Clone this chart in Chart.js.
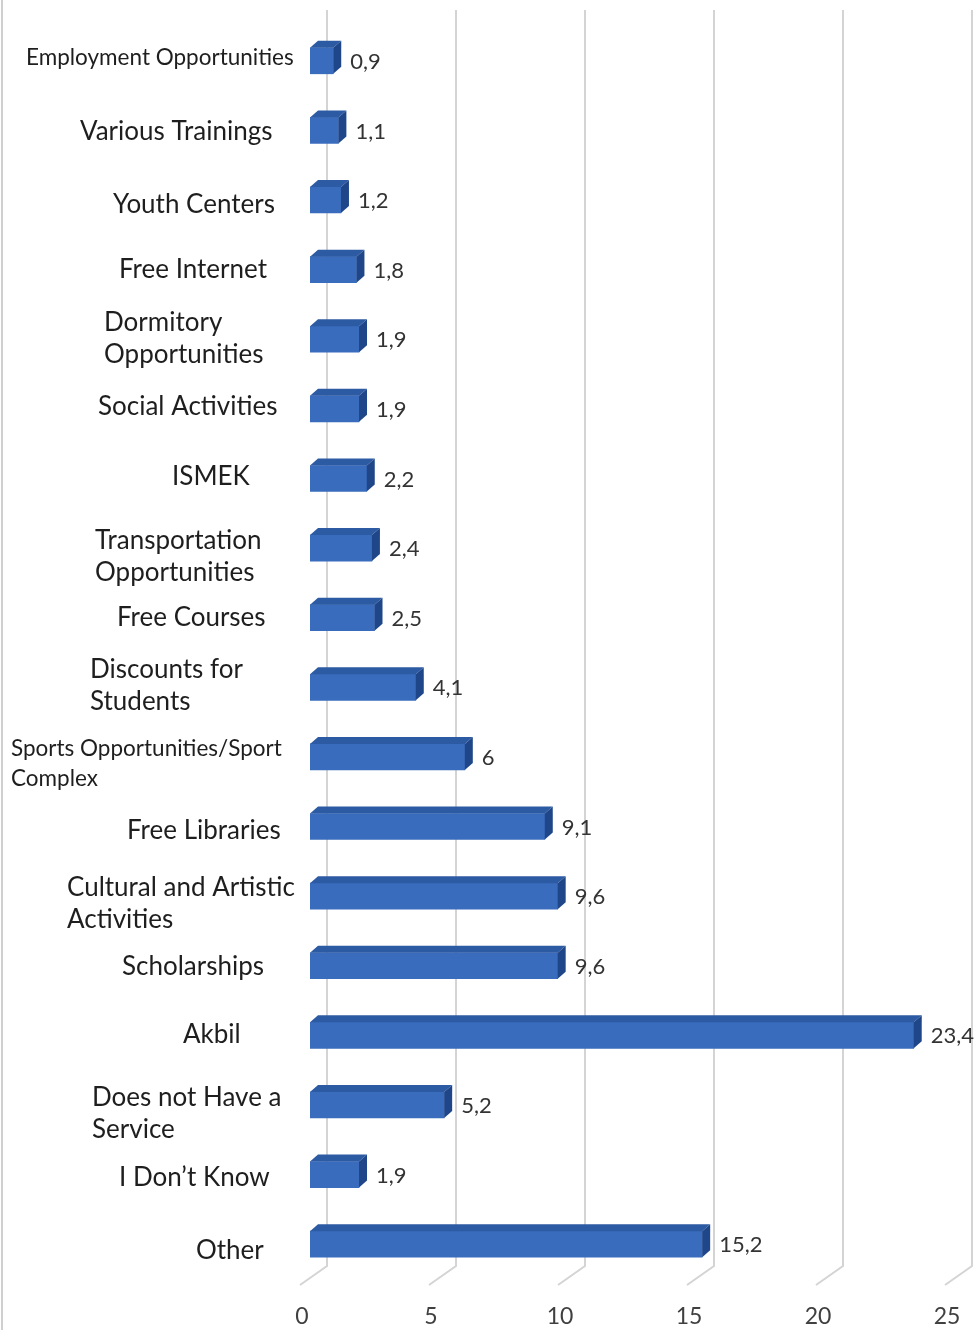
<!DOCTYPE html>
<html>
<head>
<meta charset="utf-8">
<title>Services</title>
<script src="https://cdn.jsdelivr.net/npm/chart.js@4.4.1/dist/chart.umd.min.js"></script>
<style>
  body { margin: 0; background: #fff; }
  canvas { display: block; }
</style>
</head>
<body>
<canvas id="myChart" width="980" height="1330"></canvas>
<script>
const categories = [
    ["Employment Opportunities"],
    ["Various Trainings"],
    ["Youth Centers"],
    ["Free Internet"],
    ["Dormitory", "Opportunities"],
    ["Social Activities"],
    ["ISMEK"],
    ["Transportation", "Opportunities"],
    ["Free Courses"],
    ["Discounts for", "Students"],
    ["Sports Opportunities/Sport", "Complex"],
    ["Free Libraries"],
    ["Cultural and Artistic", "Activities"],
    ["Scholarships"],
    ["Akbil"],
    ["Does not Have a", "Service"],
    ["I Don’t Know"],
    ["Other"]
];
const values = [0.9, 1.1, 1.2, 1.8, 1.9, 1.9, 2.2, 2.4, 2.5, 4.1, 6, 9.1, 9.6, 9.6, 23.4, 5.2, 1.9, 15.2];
const xTicks = [0, 5, 10, 15, 20, 25];

// text boxes for the categories: left edge, vertical nudge from the bar centre, font size
const labelLeft = [26, 80, 113, 119, 104, 98, 172, 95, 117, 90, 11, 127, 67, 122, 183, 92, 119, 196];
const labelDy = [-3, 1, 5, 0, -1, -2, -2, 9, 0, -2, 7, 4, 7, 1, -1, 9, 3, 6];
const labelSize = [22.5, 26, 26, 26, 26, 26, 26, 26, 26, 26, 22.5, 26, 26, 26, 26, 26, 26, 26];

const FONT = "Lato, 'Open Sans', sans-serif";
const DEPTH_X = 8, DEPTH_Y = -7;   // bar extrusion
const WALL_X = 17;                 // back wall offset of the grid

const floorGrid = {
    id: "floorGrid",
    beforeDatasetsDraw(chart) {
        const ctx = chart.ctx;
        const xs = chart.scales.x;
        const bottom = chart.chartArea.bottom;
        ctx.save();
        // frame line at the left edge
        ctx.strokeStyle = "#cfcfcf";
        ctx.lineWidth = 2;
        ctx.beginPath();
        ctx.moveTo(2, 0);
        ctx.lineTo(2, chart.height);
        ctx.stroke();

        ctx.strokeStyle = "#d4d4d4";
        ctx.lineWidth = 2;
        xs.ticks.forEach(t => {
            const px = xs.getPixelForValue(t.value);
            ctx.beginPath();
            ctx.moveTo(px + WALL_X, 10);
            ctx.lineTo(px + WALL_X, bottom - 13);
            ctx.lineTo(px - 10, bottom + 6);
            ctx.stroke();
        });
        ctx.restore();
    }
};

const bar3d = {
    id: "bar3d",
    afterDatasetsDraw(chart) {
        const ctx = chart.ctx;
        const meta = chart.getDatasetMeta(0);
        ctx.save();
        meta.data.forEach((bar, i) => {
            const p = bar.getProps(["x", "y", "base", "height"], true);
            const x0 = p.base, x1 = p.x;
            const top = p.y - p.height / 2, bot = p.y + p.height / 2;

            ctx.fillStyle = "#2c5aa3";
            ctx.beginPath();
            ctx.moveTo(x0, top);
            ctx.lineTo(x1, top);
            ctx.lineTo(x1 + DEPTH_X, top + DEPTH_Y);
            ctx.lineTo(x0 + DEPTH_X, top + DEPTH_Y);
            ctx.closePath();
            ctx.fill();

            ctx.fillStyle = "#1f4688";
            ctx.beginPath();
            ctx.moveTo(x1, top);
            ctx.lineTo(x1 + DEPTH_X, top + DEPTH_Y);
            ctx.lineTo(x1 + DEPTH_X, bot + DEPTH_Y);
            ctx.lineTo(x1, bot);
            ctx.closePath();
            ctx.fill();

            // value label
            ctx.fillStyle = "#333";
            ctx.font = "22px " + FONT;
            ctx.textAlign = "left";
            ctx.textBaseline = "middle";
            ctx.fillText(String(values[i]).replace(".", ","), x1 + 17, p.y + 1);
        });
        ctx.restore();
    }
};

const categoryText = {
    id: "categoryText",
    afterDraw(chart) {
        const ctx = chart.ctx;
        const ys = chart.scales.y;
        ctx.save();
        ctx.fillStyle = "#1e1e1e";
        ctx.textAlign = "left";
        ctx.textBaseline = "middle";
        categories.forEach((lines, i) => {
            const size = labelSize[i];
            const lh = size < 24 ? 30 : 32;
            const cy = ys.getPixelForValue(i) + labelDy[i];
            ctx.font = size + "px " + FONT;
            lines.forEach((s, k) => {
                ctx.fillText(s, labelLeft[i], cy + (k - (lines.length - 1) / 2) * lh);
            });
        });
        ctx.restore();
    }
};

const ctx = document.getElementById("myChart").getContext("2d");
new Chart(ctx, {
    type: "bar",
    data: {
        labels: categories,
        datasets: [{
            data: values,
            backgroundColor: "#3a6cbd",
            borderWidth: 0,
            barThickness: 26
        }]
    },
    options: {
        indexAxis: "y",
        responsive: false,
        animation: false,
        layout: { padding: { left: 310, right: 25, top: 26, bottom: 3 } },
        plugins: {
            legend: { display: false },
            tooltip: { enabled: false }
        },
        scales: {
            x: {
                min: 0,
                max: 25,
                afterBuildTicks: axis => { axis.ticks = xTicks.map(v => ({ value: v })); },
                afterFit: axis => { axis.height = 48; axis.paddingRight = 0; axis.paddingLeft = 0; },
                grid: { display: false },
                border: { display: false },
                ticks: {
                    padding: 16,
                    maxRotation: 0,
                    labelOffset: -8,
                    color: "#404040",
                    font: { family: FONT, size: 23 }
                }
            },
            y: {
                display: false,
                grid: { display: false }
            }
        }
    },
    plugins: [floorGrid, bar3d, categoryText]
});
</script>
</body>
</html>
